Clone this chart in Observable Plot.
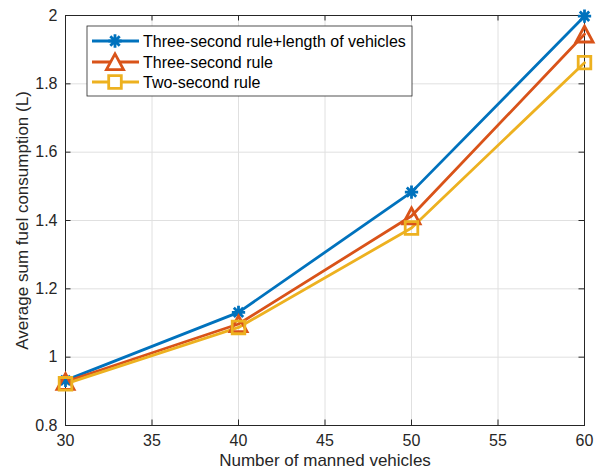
<!DOCTYPE html>
<html><head><meta charset="utf-8">
<script src="https://cdn.jsdelivr.net/npm/d3@7"></script>
<script src="https://cdn.jsdelivr.net/npm/@observablehq/plot@0.6"></script>
<style>body{margin:0;background:#fff;}</style>
</head><body><div id="chart"></div>
<script>
const vehicles = [30, 40, 50, 60];
const seriesNames = ["Three-second rule+length of vehicles", "Three-second rule", "Two-second rule"];
const threeSecLen = [0.932, 1.131, 1.483, 1.998];
const threeSec = [0.928, 1.097, 1.413, 1.945];
const twoSec = [0.922, 1.087, 1.378, 1.862];
const xTicks = [30, 35, 40, 45, 50, 55, 60];
const yTicks = [0.8, 1, 1.2, 1.4, 1.6, 1.8, 2];
const xLabel = "Number of manned vehicles";
const yLabel = "Average sum fuel consumption (L)";
const colors = ["#0072BD", "#D95319", "#EDB120"];

const seriesValues = [threeSecLen, threeSec, twoSec];
const rows = seriesNames.flatMap((s, i) => vehicles.map((v, j) => ({series: s, x: v, y: seriesValues[i][j]})));

const R = 7;
const star = {draw(ctx, size) { const r = Math.sqrt(size / Math.PI) * 0.95;
  for (let i = 0; i < 4; i++) { const a = i * Math.PI / 4; ctx.moveTo(r * Math.cos(a), r * Math.sin(a)); ctx.lineTo(-r * Math.cos(a), -r * Math.sin(a)); } }};
const tri = {draw(ctx, size) { const r = Math.sqrt(size / Math.PI);
  ctx.moveTo(0, -r * 1.15); ctx.lineTo(r * 1.22, r * 1.1); ctx.lineTo(-r * 1.22, r * 1.1); ctx.closePath(); }};
const sq = {draw(ctx, size) { const r = Math.sqrt(size / Math.PI) * 0.9;
  ctx.rect(-r, -r, 2 * r, 2 * r); }};
const symbols = [star, tri, sq];

const W = 599, H = 474, mL = 65, mR = 15, mT = 15, mB = 49;
const fw = W - mL - mR, fh = H - mT - mB, tk = 5.5;
const axisColor = "#262626";
const font = "'Liberation Sans', Arial, sans-serif";
const lw = 2.8;

const marks = [
  Plot.gridX(xTicks, {stroke: "#e0e0e0", strokeOpacity: 1}),
  Plot.gridY(yTicks, {stroke: "#e0e0e0", strokeOpacity: 1}),
  Plot.tickX(xTicks, {x: d => d, insetTop: fh - tk, stroke: axisColor}),
  Plot.tickX(xTicks, {x: d => d, insetBottom: fh - tk, stroke: axisColor}),
  Plot.tickY(yTicks, {y: d => d, insetRight: fw - tk, stroke: axisColor}),
  Plot.tickY(yTicks, {y: d => d, insetLeft: fw - tk, stroke: axisColor}),
  Plot.frame({stroke: axisColor, strokeWidth: 1}),
  Plot.axisX(xTicks, {tickSize: 0, tickPadding: 9, fontSize: 16, fill: axisColor, label: null, tickFormat: d => String(d)}),
  Plot.axisY(yTicks, {tickSize: 0, tickPadding: 8, fontSize: 16, fill: axisColor, label: null, tickFormat: d => String(d)}),
  Plot.text([xLabel], {frameAnchor: "bottom", dy: 40, fontSize: 17, fill: axisColor, textAnchor: "middle", text: d => d}),
  Plot.text([yLabel], {frameAnchor: "left", dx: -43, rotate: -90, fontSize: 17, fill: axisColor, textAnchor: "middle", text: d => d}),
];
seriesNames.forEach((s, i) => {
  const d = rows.filter(r => r.series === s);
  marks.push(Plot.line(d, {x: "x", y: "y", stroke: colors[i], strokeWidth: lw}));
});
seriesNames.forEach((s, i) => {
  const d = rows.filter(r => r.series === s);
  marks.push(Plot.dot(d, {x: "x", y: "y", r: R, symbol: symbols[i], stroke: colors[i], fill: "none", strokeWidth: lw}));
});

const chart = Plot.plot({
  width: W, height: H, marginLeft: mL, marginRight: mR, marginTop: mT, marginBottom: mB,
  style: {fontFamily: font, fontSize: "16px", background: "white", overflow: "visible"},
  x: {domain: [30, 60], axis: null},
  y: {domain: [0.8, 2], axis: null},
  marks
});
document.getElementById("chart").appendChild(chart);

// legend
const svg = d3.select(chart);
const lg = svg.append("g").attr("text-anchor", "start");
lg.append("rect").attr("x", 87).attr("y", 26).attr("width", 325).attr("height", 70)
  .attr("fill", "white").attr("stroke", axisColor).attr("stroke-width", 0.8);
const rowY = [41, 62, 82];
seriesNames.forEach((s, i) => {
  const g = lg.append("g").attr("transform", `translate(0,${rowY[i]})`);
  g.append("path").attr("d", "M92,0H139").attr("fill", "none").attr("stroke", colors[i]).attr("stroke-width", lw);
  g.append("path").attr("transform", "translate(115,0)")
    .attr("d", d3.symbol().type(symbols[i]).size(Math.PI * R * R)())
    .attr("fill", "white").attr("stroke", colors[i]).attr("stroke-width", lw);
  g.append("text").attr("x", 143).attr("dy", "0.35em").attr("font-size", 16).attr("text-anchor", "start")
    .attr("fill", "#000").attr("font-family", font).text(s);
});
</script></body></html>
